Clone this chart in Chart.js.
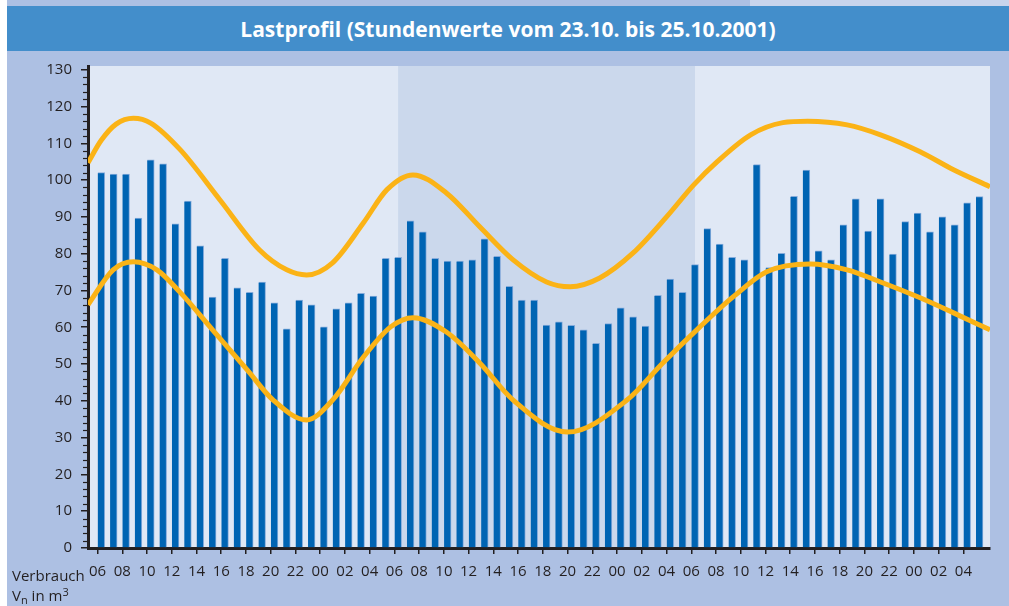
<!DOCTYPE html>
<html>
<head>
<meta charset="utf-8">
<script src="https://cdn.jsdelivr.net/npm/chart.js@4.4.1/dist/chart.umd.min.js"></script>
<style>
html, body { margin: 0; padding: 0; }
body { width: 1009px; height: 606px; position: relative; overflow: hidden; background: #fff; font-family: "Open Sans", sans-serif; }
#page { position: absolute; left: 7px; top: 0; right: 0; bottom: 0; background: #adc0e3; }
#strip { position: absolute; left: 750px; top: 0; width: 259px; height: 6px; background: #c8d4ec; }
#title { position: absolute; left: 7px; top: 6px; width: 1002px; height: 45px; background: #438ecb; color: #fff; font-weight: 700; font-size: 21px; line-height: 47px; text-align: center; z-index: 2; }
#unit { position: absolute; left: 12px; top: 565px; color: #231f20; font-size: 15px; line-height: 20px; z-index: 2; }
#unit sub { font-size: 11px; vertical-align: -3px; line-height: 0; }
#unit sup { font-size: 11px; vertical-align: 5px; line-height: 0; }
canvas { position: absolute; left: 0; top: 0; z-index: 1; }
</style>
</head>
<body>
<div id="page"></div>
<div id="strip"></div>
<div id="title">Lastprofil (Stundenwerte vom 23.10. bis 25.10.2001)</div>
<div id="unit">Verbrauch<br>V<sub>n</sub> in m<sup>3</sup></div>
<canvas id="chart" width="1009" height="606"></canvas>
<script>
// Stundenwerte 23.10. 06 Uhr bis 26.10. 05 Uhr
const hourLabels = ["06","08","10","12","14","16","18","20","22","00","02","04",
                    "06","08","10","12","14","16","18","20","22","00","02","04",
                    "06","08","10","12","14","16","18","20","22","00","02","04"];

const yTickValues = [0, 10, 20, 30, 40, 50, 60, 70, 80, 90, 100, 110, 120, 130];

const consumption = [
  102.0, 101.6, 101.6, 89.7, 105.5, 104.4, 88.1, 94.3, 82.1, 68.2, 78.7, 70.7,
  69.5, 72.3, 66.6, 59.6, 67.4, 66.1, 60.1, 65.0, 66.6, 69.2, 68.5, 78.7,
  79.0, 88.9, 85.9, 78.7, 78.0, 78.0, 78.3, 84.0, 79.3, 71.1, 67.4, 67.4,
  60.6, 61.5, 60.5, 59.3, 55.6, 61.0, 65.3, 62.8, 60.3, 68.7, 73.1, 69.5,
  77.0, 86.8, 82.6, 79.0, 78.3, 104.2, 76.2, 80.1, 95.6, 102.7, 80.8, 78.3,
  87.8, 94.9, 86.1, 94.9, 79.9, 88.7, 91.0, 85.9, 90.0, 87.8, 93.8, 95.5
];

// obere und untere Hüllkurve (Stunde, Wert)
const upperHours = [-1.07, 0.0, 1.2, 2.6, 4.0, 6.4, 9.6, 12.8, 15.0, 16.6, 18.7, 21.2, 23.1,
                    25.2, 27.9, 30.6, 33.3, 36.0, 37.9, 40.3, 43.0, 45.7, 47.9, 49.8, 52.5,
                    55.1, 57.1, 60.3, 63.0, 66.2, 68.9, 71.85];
const upperValues = [104.7, 110.8, 115.2, 116.8, 115.5, 108.2, 94.6, 81.0, 75.6, 74.2, 77.5, 88.4, 97.4,
                     101.4, 96.5, 87.3, 78.3, 72.3, 71.0, 73.4, 80.2, 90.0, 98.7, 105.0, 112.3,
                     115.6, 116.0, 115.0, 112.3, 107.7, 102.8, 98.2];

const lowerHours = [-1.07, 0.96, 2.6, 4.5, 6.4, 9.0, 11.8, 13.9, 16.6, 18.7, 21.2, 23.4,
                    25.2, 27.9, 30.6, 33.3, 37.7, 42.5, 45.4, 48.4, 51.1, 53.8, 57.3,
                    60.3, 63.0, 66.2, 68.9, 71.85];
const lowerValues = [66.1, 75.6, 77.8, 75.6, 69.4, 59.3, 48.4, 40.2, 34.8, 40.2, 51.9, 60.1,
                     62.6, 58.7, 50.3, 40.2, 31.5, 40.2, 50.3, 60.1, 68.3, 75.1, 77.2,
                     75.6, 72.3, 68.0, 63.9, 59.3];

// hinterlegter Bereich (24.10. 06 Uhr bis 25.10. 06 Uhr)
const shadeFrom = 24;
const shadeTo = 48;

const ink = "#231f20";

const backgroundPlugin = {
    id: "plotBackground",
    beforeDraw(chart) {
        const { ctx, chartArea: a, scales: { x } } = chart;
        ctx.save();
        ctx.fillStyle = "#e0e8f5";
        ctx.fillRect(a.left, a.top, a.right - a.left, a.bottom - a.top);
        const x0 = x.getPixelForValue(shadeFrom);
        const x1 = x.getPixelForValue(shadeTo);
        ctx.fillStyle = "#cbd8ec";
        ctx.fillRect(x0, a.top, x1 - x0, a.bottom - a.top);
        ctx.restore();
    },
    afterDraw(chart) {
        const { ctx, chartArea: a, scales: { y } } = chart;
        ctx.save();
        ctx.strokeStyle = ink;
        ctx.lineWidth = 1.2;
        for (let v = 2; v < 130; v += 2) {
            if (v % 10 === 0) continue;
            const py = Math.round(y.getPixelForValue(v)) + 0.5;
            ctx.beginPath();
            ctx.moveTo(a.left - 5, py);
            ctx.lineTo(a.left, py);
            ctx.stroke();
        }
        ctx.restore();
    }
};

new Chart(document.getElementById("chart"), {
    data: {
        datasets: [
            {
                type: "line",
                data: upperHours.map((h, k) => ({ x: h, y: upperValues[k] })),
                borderColor: "#fbb316",
                borderWidth: 5,
                pointRadius: 0,
                cubicInterpolationMode: "monotone",
                order: 0,
            },
            {
                type: "line",
                data: lowerHours.map((h, k) => ({ x: h, y: lowerValues[k] })),
                borderColor: "#fbb316",
                borderWidth: 5,
                pointRadius: 0,
                cubicInterpolationMode: "monotone",
                order: 0,
            },
            {
                type: "bar",
                data: consumption.map((v, i) => ({ x: i, y: v })),
                backgroundColor: "#0064b3",
                borderColor: "#85abdb",
                borderWidth: { top: 1, right: 1, left: 0, bottom: 0 },
                barThickness: 7,
                order: 1,
            },
        ],
    },
    options: {
        responsive: false,
        animation: false,
        layout: { padding: { left: 0, top: 66, right: 19, bottom: 0 } },
        plugins: {
            legend: { display: false },
            tooltip: { enabled: false },
        },
        scales: {
            x: {
                type: "linear",
                offset: false,
                min: -1.07,
                max: 71.85,
                afterBuildTicks: (s) => { s.ticks = hourLabels.map((_, k) => ({ value: 2 * k - 0.3 })); },
                afterFit: (s) => { s.height = 58; },
                ticks: {
                    autoSkip: false,
                    maxRotation: 0,
                    callback: (v, idx) => hourLabels[idx],
                    color: ink,
                    font: { family: "Open Sans", size: 15 },
                    padding: 9,
                },
                grid: { drawOnChartArea: false, offset: false, tickLength: 6, color: ink, lineWidth: 1.5 },
                border: { width: 3, color: ink },
            },
            y: {
                min: 0,
                max: 131,
                afterBuildTicks: (s) => { s.ticks = yTickValues.map((v) => ({ value: v })); },
                afterFit: (s) => { s.width = 88; },
                ticks: {
                    color: ink,
                    font: { family: "Open Sans", size: 15 },
                    padding: 9,
                },
                grid: { drawOnChartArea: false, tickLength: 7, color: ink, lineWidth: 1.5 },
                border: { width: 3, color: ink },
            },
        },
    },
    plugins: [backgroundPlugin],
});
</script>
</body>
</html>
